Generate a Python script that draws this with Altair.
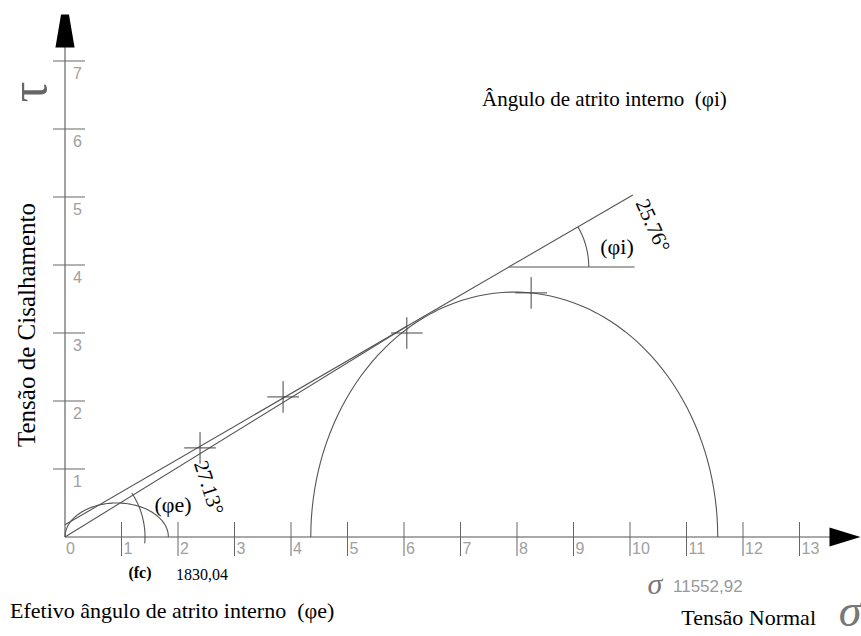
import math
import numpy as np
import pandas as pd
import altair as alt

# Drawing scale: pixels per unit (x1000) on each axis
PX_X = 56.5
PX_Y = 68.0
X_MAX = 796 / PX_X
Y_MAX = 537 / PX_Y

# Axis ticks
x_ticks = list(range(0, 14))
y_ticks = list(range(1, 8))

# Mohr circles (values x1000)
sigma3 = 4.35        # confining stress, large circle start
sigma1 = 11.55292    # 11552,92
fc = 1.83004         # 1830,04 (uniaxial circle)
small_peak = 0.5     # height of the uniaxial arc as drawn

# Envelope lines
phi_i = 25.76        # internal friction angle
phi_e = 27.13        # effective friction angle
cohesion = 0.18      # intercept of the phi_i line
phi_i_end = 10.05    # end of the phi_i line
ref_y = 3.97         # horizontal reference for the phi_i angle
ref_end = 10.08

# Points marked with "+"
marker_x = [2.39, 3.86, 6.05, 8.25]
marker_y = [1.31, 2.06, 3.00, 3.59]

SP2 = "\u00a0\u00a0"


def dx(px):
    return (px - 65) / PX_X


def dy(py):
    return (537 - py) / PX_Y


def arc(cx, cy, rx, ry, t0, t1, n=80):
    t = np.linspace(t0, t1, n)
    return cx + rx * np.cos(t), cy + ry * np.sin(t)


ti = math.tan(math.radians(phi_i))
te = math.tan(math.radians(phi_e))

curves = []


def add(name, xs, ys):
    for i, (a, b) in enumerate(zip(xs, ys)):
        curves.append({"g": name, "i": i, "x": float(a), "y": float(b)})


# large Mohr circle
c_big = (sigma1 + sigma3) / 2
r_big = (sigma1 - sigma3) / 2
add("big", *arc(c_big, 0, r_big, r_big, math.pi, 0))
# uniaxial arc
add("small", *arc(fc / 2, 0, fc / 2, small_peak, math.pi, 0))
# phi_i envelope
add("phi_i", [0, phi_i_end], [cohesion, cohesion + ti * phi_i_end])
# phi_e line from the origin to where it meets the envelope
x_meet = cohesion / (te - ti)
add("phi_e", [0, x_meet], [0, te * x_meet])
# horizontal reference and angle arcs
x_v = (ref_y - cohesion) / ti
add("ref", [x_v, ref_end], [ref_y, ref_y])
r_px = 80
add("arc_i", *arc(x_v, ref_y, r_px / PX_X, r_px / PX_Y, 0,
                  math.atan(ti * PX_Y / PX_X), 30))
add("arc_e", *arc(0, 0, r_px / PX_X, r_px / PX_Y, -0.08,
                  math.atan(te * PX_Y / PX_X) + 0.03, 30))
# axes
add("xaxis", [0, dx(830)], [0, 0])
add("yaxis", [0, 0], [0, dy(47)])
curves = pd.DataFrame(curves)

X = alt.X("x:Q", scale=alt.Scale(domain=[0, X_MAX], nice=False, zero=False), axis=None)
Y = alt.Y("y:Q", scale=alt.Scale(domain=[0, Y_MAX], nice=False, zero=False), axis=None)

lines = alt.Chart(curves).mark_line(color="#555", strokeWidth=1.1).encode(
    x=X, y=Y, detail="g:N", order="i:Q"
)

# tick marks crossing the axes
tick_rows = []
for k in x_ticks[1:]:
    tick_rows.append({"x": k, "x2": k, "y": dy(522), "y2": dy(556)})
for k in y_ticks:
    tick_rows.append({"x": dx(53), "x2": dx(85), "y": k, "y2": k})
ticks = alt.Chart(pd.DataFrame(tick_rows)).mark_rule(color="#666", strokeWidth=1).encode(
    x=X, x2="x2:Q", y=Y, y2="y2:Q"
)

tick_labels = pd.DataFrame(
    [{"x": dx(66) if k == 0 else k + 2 / PX_X, "y": dy(549), "t": str(k)} for k in x_ticks]
    + [{"x": dx(73), "y": k - 13 / PX_Y, "t": str(k)} for k in y_ticks]
)
tick_text = alt.Chart(tick_labels).mark_text(
    align="left", baseline="middle", font="Liberation Sans", fontSize=16, color="#a0a0a0"
).encode(x=X, y=Y, text="t:N")

# axis arrows
arrows = pd.DataFrame([
    {"x": dx(845), "y": 0, "s": "M -1 -0.62 L 1 0 L -1 0.62 Z", "z": 961},
    {"x": 0, "y": dy(31), "s": "M -0.24 -1 L 0.24 -1 L 0.58 1 L -0.58 1 Z", "z": 1089},
])
arrow_marks = alt.Chart(arrows).mark_point(filled=True, color="black", opacity=1).encode(
    x=X, y=Y, shape=alt.Shape("s:N", scale=None), size=alt.Size("z:Q", scale=None)
)

markers = alt.Chart(pd.DataFrame({"x": marker_x, "y": marker_y})).mark_point(
    shape="M -1 0 L 1 0 M 0 -1 L 0 1", size=1000, filled=False, color="#444",
    strokeWidth=1, opacity=1
).encode(x=X, y=Y)


def label(rows, **kw):
    return alt.Chart(pd.DataFrame(rows)).mark_text(**kw).encode(x=X, y=Y, text="t:N")


serif = "Liberation Serif"

title_top = label([
    {"x": dx(482), "y": dy(100), "t": "Ângulo de atrito interno" + SP2 + "(φi)"},
], align="left", baseline="middle", font=serif, fontSize=21, color="black")

title_bottom = label([
    {"x": dx(10), "y": dy(611), "t": "Efetivo ângulo de atrito interno" + SP2 + "(φe)"},
], align="left", baseline="middle", font=serif, fontSize=22, color="black")

title_x = label([
    {"x": dx(816), "y": dy(618), "t": "Tensão Normal"},
], align="right", baseline="middle", font=serif, fontSize=22, color="black")

y_title = label([
    {"x": dx(27), "y": dy(325), "t": "Tensão de Cisalhamento"},
], align="center", baseline="middle", font=serif, fontSize=25, angle=270, color="black")

tau = label([
    {"x": dx(30), "y": dy(92), "t": "τ"},
], align="center", baseline="middle", font=serif, fontSize=52,
    angle=270, color="#666")

ang_i = label([{"x": dx(652), "y": dy(226), "t": f"{phi_i:.2f}°"}],
              align="center", baseline="middle", font=serif, fontSize=21, angle=66, color="black")
ang_e = label([{"x": dx(208), "y": dy(488), "t": f"{phi_e:.2f}°"}],
              align="center", baseline="middle", font=serif, fontSize=21, angle=72, color="black")

phis = label([
    {"x": dx(617), "y": dy(247), "t": "(φi)"},
    {"x": dx(173), "y": dy(505), "t": "(φe)"},
], align="center", baseline="middle", font=serif, fontSize=22, color="black")

fc_tag = label([{"x": dx(140), "y": dy(573), "t": "(fc)"}],
               align="center", baseline="middle", font=serif, fontSize=16,
               fontWeight="bold", color="black")
fc_val = label([{"x": dx(176), "y": dy(575), "t": f"{fc * 1000:.2f}".replace(".", ",")}],
               align="left", baseline="middle", font=serif, fontSize=16, color="black")

sig_small = label([{"x": dx(655), "y": dy(585), "t": "σ"}],
                  align="center", baseline="middle", font=serif, fontSize=30,
                  fontStyle="italic", color="#777")
sig_val = label([{"x": dx(673), "y": dy(587), "t": f"{sigma1 * 1000:.2f}".replace(".", ",")}],
                align="left", baseline="middle", font="Liberation Sans", fontSize=17, color="#999")
sig_big = label([{"x": dx(850), "y": dy(612), "t": "σ"}],
                align="center", baseline="middle", font=serif, fontSize=46,
                fontStyle="italic", color="#777")

chart = alt.layer(
    lines, ticks, tick_text, arrow_marks, markers,
    title_top, title_bottom, title_x, y_title, tau, ang_i, ang_e, phis,
    fc_tag, fc_val, sig_small, sig_val, sig_big,
).properties(
    width=796, height=537, autosize="none",
    padding={"left": 65, "top": 0, "right": 0, "bottom": 99},
    background="white",
).configure_view(stroke=None)

chart.save("out.html", embed_options={"renderer": "svg", "actions": False})
